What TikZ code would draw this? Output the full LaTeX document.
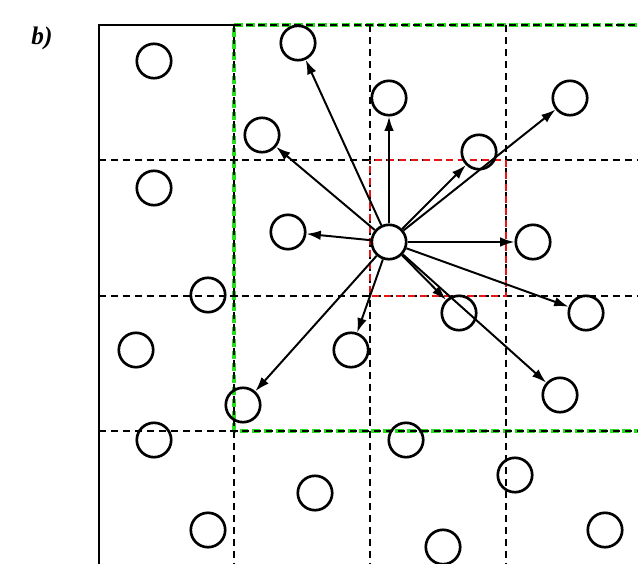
\documentclass[tikz,border=0pt]{standalone}
\usepackage{fontspec}
\setmainfont{Liberation Serif}
\usepackage{xcolor}
\definecolor{ColG}{RGB}{40,220,30}
\definecolor{ColR}{RGB}{230,20,20}
\usepackage{tikz}
\usetikzlibrary{arrows.meta}
\tikzstyle{Particle}=[circle,draw=black,line width=1.9pt,inner sep=0pt,
minimum size=0.86cm]
\tikzstyle{Edge}=[draw=black,line width=1.4pt,-{Latex[length=3.6mm,width=2.4mm]}]
\tikzstyle{Cell}=[draw=black,line width=1.7pt,dash pattern=on 5pt off 3.5pt]
\tikzstyle{Frame}=[draw=black,line width=2pt]
\tikzstyle{Label}=[font=\fontsize{18}{20}\selectfont\bfseries\itshape]

\begin{document}
\begin{tikzpicture}[x=0.025cm,y=-0.025cm]
        \clip(0,0)rectangle(638,564);
        \fill[white](0,0)rectangle(638,564);
        \node[Label](lbl)at(42,38){b)};
        % grid
        \draw[ColG,line width=2.4pt,dash pattern=on 6pt off 2.5pt]
            (234,431)--(234,25)--(642,25)--(642,431)--cycle;
        \draw[Frame](99,564)--(99,25)--(234,25);
        \draw[Cell](99,160)--(642,160);
        \draw[Cell](99,296)--(642,296);
        \draw[Cell](99,431)--(642,431);
        \draw[Cell](234,25)--(234,564);
        \draw[Cell](370,25)--(370,564);
        \draw[Cell](506,25)--(506,564);
        \draw[Cell](234,25)--(642,25);
        \draw[ColR,line width=1.7pt,dash pattern=on 5pt off 3.5pt,dash phase=4pt]
            (370,160)rectangle(506,296);
        % particles
        \node[Particle](0)at(154,61){};
        \node[Particle](1)at(154,188){};
        \node[Particle](2)at(262,135){};
        \node[Particle](3)at(298,43){};
        \node[Particle](4)at(288,232){};
        \node[Particle](5)at(208,295){};
        \node[Particle](6)at(136,350){};
        \node[Particle](7)at(243,405){};
        \node[Particle](8)at(154,440){};
        \node[Particle](9)at(208,530){};
        \node[Particle](10)at(315,493){};
        \node[Particle](11)at(389,98){};
        \node[Particle](12)at(479,152){};
        \node[Particle](13)at(570,98){};
        \node[Particle](14)at(533,242){};
        \node[Particle](15)at(351,350){};
        \node[Particle](16)at(459,313){};
        \node[Particle](17)at(586,313){};
        \node[Particle](18)at(560,395){};
        \node[Particle](19)at(406,440){};
        \node[Particle](20)at(515,475){};
        \node[Particle](21)at(605,530){};
        \node[Particle](22)at(443,547){};
        \node[Particle](c)at(389,242){};
        % neighbour links
        \draw[Edge](c)--(3);
        \draw[Edge](c)--(2);
        \draw[Edge](c)--(4);
        \draw[Edge](c)--(11);
        \draw[Edge](c)--(12);
        \draw[Edge](c)--(13);
        \draw[Edge](c)--(14);
        \draw[Edge](c)--(17);
        \draw[Edge](c)--(16);
        \draw[Edge](c)--(18);
        \draw[Edge](c)--(15);
        \draw[Edge](c)--(7);
    \end{tikzpicture}
\end{document}
